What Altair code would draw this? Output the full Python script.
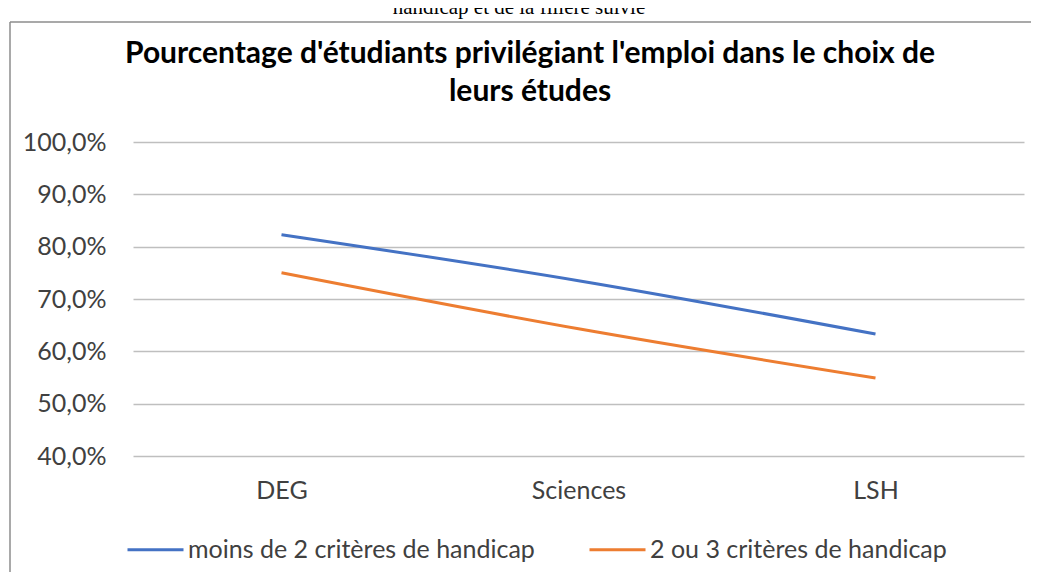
import altair as alt
import pandas as pd

categories = ["DEG", "Sciences", "LSH"]
series_names = ["moins de 2 critères de handicap", "2 ou 3 critères de handicap"]
moins_de_2 = [0.823, 0.735, 0.633]
deux_ou_trois = [0.750, 0.643, 0.549]
y_ticks = [0.4, 0.5, 0.6, 0.7, 0.8, 0.9, 1.0]
colors = ["#4472C4", "#ED7D31"]
title_text = "Pourcentage d'étudiants privilégiant l'emploi dans le choix de\nleurs études"
caption_above = "handicap et de la filière suivie"

rows = []
for s, vals in zip(series_names, [moins_de_2, deux_ou_trois]):
    for c, v in zip(categories, vals):
        rows.append({"filiere": c, "serie": s, "pct": v})
df = pd.DataFrame(rows)

W, H = 891, 314
FONT = "Lato"
TXT = "#404040"
FS = 25

lines = alt.Chart(df).mark_line(strokeWidth=3, interpolate="monotone").encode(
    x=alt.X("filiere:N", sort=categories, title=None,
            scale=alt.Scale(type="point", padding=0.5),
            axis=alt.Axis(labelAngle=0, ticks=False, domain=False, grid=False,
                          labelFont=FONT, labelFontSize=FS, labelColor=TXT,
                          labelPadding=22)),
    y=alt.Y("pct:Q", title=None,
            scale=alt.Scale(domain=[0.4, 1.0], nice=False, zero=False),
            axis=alt.Axis(values=y_ticks, ticks=False, domain=False,
                          gridColor="#bfbfbf", gridWidth=1.5,
                          labelFont=FONT, labelFontSize=FS, labelColor=TXT,
                          labelPadding=27,
                          labelExpr="replace(format(datum.value, '.1%'), '.', ',')")),
    color=alt.Color("serie:N", sort=series_names,
                    scale=alt.Scale(domain=series_names, range=colors),
                    legend=alt.Legend(title=None, orient="none", direction="horizontal",
                                      legendX=-7, legendY=378,
                                      symbolType="stroke", symbolSize=3136,
                                      symbolStrokeWidth=3, labelOffset=3,
                                      columnPadding=48, labelLimit=0,
                                      labelFont=FONT, labelFontSize=FS, labelColor=TXT)),
)

title = alt.Chart(pd.DataFrame({"t": [title_text]})).mark_text(
    font=FONT, fontSize=30, fontWeight="bold", baseline="alphabetic", align="center",
    color="#000000", lineBreak="\n", lineHeight=38
).encode(text="t:N", x=alt.value(397), y=alt.value(-79))

caption = alt.Chart(pd.DataFrame({"t": [caption_above]})).mark_text(
    font="Liberation Serif", fontSize=21, baseline="alphabetic", align="center", color="#000000"
).encode(text="t:N", x=alt.value(386), y=alt.value(-128))

border_left = alt.Chart(pd.DataFrame({"a": [0]})).mark_rule(color="#8c8c8c", strokeWidth=1.5).encode(
    x=alt.value(-123), y=alt.value(-120), y2=alt.value(500))
border_top = alt.Chart(pd.DataFrame({"a": [0]})).mark_rule(color="#8c8c8c", strokeWidth=1.5).encode(
    x=alt.value(-123), x2=alt.value(W + 20), y=alt.value(-120))

chart = alt.layer(border_left, border_top, caption, title, lines).properties(
    width=W, height=H,
    padding={"left": 125, "top": 134, "right": 7, "bottom": 116},
    autosize=alt.AutoSizeParams(type="none"),
).configure_view(stroke=None)

chart.save("out.html", embed_options={"renderer": "svg", "actions": False})
